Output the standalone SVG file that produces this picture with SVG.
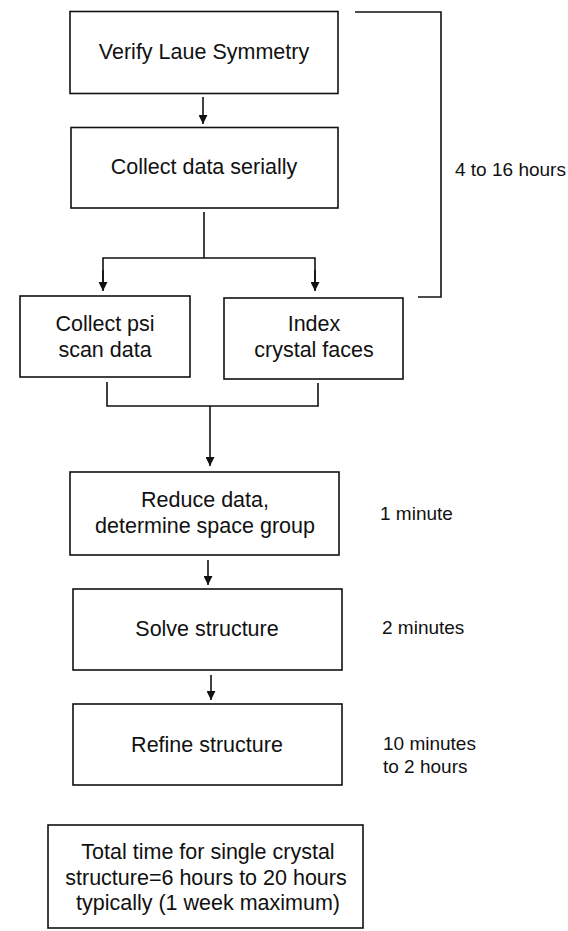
<svg xmlns="http://www.w3.org/2000/svg" width="568" height="931" viewBox="0 0 568 931">
<style>
  .box { fill: #fff; stroke: #111; stroke-width: 1.6; }
  .t { font-family: "Liberation Sans", Arial, sans-serif; font-size: 21.5px; fill: #111; text-anchor: middle; }
  .lab { font-family: "Liberation Sans", Arial, sans-serif; font-size: 19px; fill: #111; }
  .ln { fill: none; stroke: #111; stroke-width: 1.6; }
</style>
<defs>
  <marker id="ah" viewBox="0 0 10 10" refX="10" refY="5" markerWidth="9" markerHeight="9" markerUnits="userSpaceOnUse" orient="auto">
    <path d="M0,0 L10,5 L0,10 Z" fill="#111"/>
  </marker>
</defs>
<rect width="568" height="931" fill="#fff"/>
<g id="connectors">
  <line class="ln" x1="203" y1="97" x2="203" y2="124" marker-end="url(#ah)"/>
  <line class="ln" x1="204" y1="212" x2="204" y2="258"/>
  <path class="ln" d="M103,290 V258 H315 V290" />
  <line class="ln" x1="103" y1="270" x2="103" y2="291" marker-end="url(#ah)"/>
  <line class="ln" x1="315" y1="270" x2="315" y2="291" marker-end="url(#ah)"/>
  <path class="ln" d="M107,382 V406 H318 V383"/>
  <line class="ln" x1="210" y1="406" x2="210" y2="466" marker-end="url(#ah)"/>
  <line class="ln" x1="208" y1="560" x2="208" y2="585" marker-end="url(#ah)"/>
  <line class="ln" x1="211" y1="675" x2="211" y2="700" marker-end="url(#ah)"/>
  <path class="ln" d="M355,12 H441 V297 H418"/>
</g>
<g id="n1">
  <rect class="box" x="70" y="11.5" width="268" height="82"/>
  <text class="t" x="204" y="59">Verify Laue Symmetry</text>
</g>
<g id="n2">
  <rect class="box" x="71" y="127.5" width="267" height="80.5"/>
  <text class="t" x="204" y="174">Collect data serially</text>
</g>
<g id="n3">
  <rect class="box" x="20" y="296" width="170" height="81"/>
  <text class="t" x="105" y="331">Collect psi</text>
  <text class="t" x="105" y="357">scan data</text>
</g>
<g id="n4">
  <rect class="box" x="224" y="298" width="179" height="81"/>
  <text class="t" x="314" y="331">Index</text>
  <text class="t" x="314" y="357">crystal faces</text>
</g>
<g id="n5">
  <rect class="box" x="70" y="472" width="269" height="83"/>
  <text class="t" x="205" y="507">Reduce data,</text>
  <text class="t" x="205" y="533">determine space group</text>
</g>
<g id="n6">
  <rect class="box" x="73" y="589" width="269" height="81"/>
  <text class="t" x="207" y="636">Solve structure</text>
</g>
<g id="n7">
  <rect class="box" x="73" y="704" width="269" height="81"/>
  <text class="t" x="207" y="752">Refine structure</text>
</g>
<g id="n8">
  <rect class="box" x="48" y="825" width="315" height="103"/>
  <text class="t" x="208" y="859">Total time for single crystal</text>
  <text class="t" x="206" y="885">structure=6 hours to 20 hours</text>
  <text class="t" x="208" y="910">typically (1 week maximum)</text>
</g>
<g id="labels">
  <text class="lab" x="455" y="176">4 to 16 hours</text>
  <text class="lab" x="380" y="520">1 minute</text>
  <text class="lab" x="382" y="634">2 minutes</text>
  <text class="lab" x="383" y="750">10 minutes</text>
  <text class="lab" x="383" y="773">to 2 hours</text>
</g>
</svg>
